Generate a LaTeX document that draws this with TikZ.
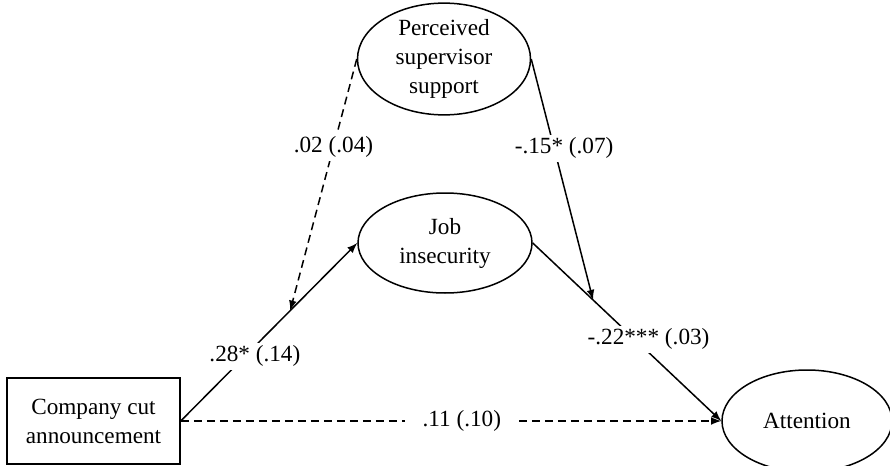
\documentclass[tikz,border=0pt]{standalone}
\usepackage{fontspec}
\setmainfont{Liberation Serif}
\usetikzlibrary{shapes.geometric}

\tikzset{
	latent/.style={draw,ellipse,line width=0.75pt,inner sep=0pt,align=center},
	observed/.style={draw,rectangle,line width=0.75pt,inner sep=0pt,align=center},
	lbl/.style={fill=white,inner sep=1.5pt},
	path/.style={line width=0.75pt,->},
	dashline/.style={line width=0.75pt,->,dash pattern=on 4pt off 2.5pt}
}

\begin{document}
\begin{tikzpicture}[>=latex,x=0.5pt,y=-0.5pt,font=\fontsize{11.6}{14.5}\selectfont]

\useasboundingbox (0,0) rectangle (890,466);

% variables
\node[latent,minimum width=86.5pt,minimum height=49pt] (support) at (444,59)
	{Perceived\\supervisor\\support};
\node[latent,minimum width=87pt,minimum height=50pt] (insec) at (445,243)
	{Job\\insecurity};
\node[observed,minimum width=86.5pt,minimum height=43pt] (cut) at (93.5,421)
	{Company cut\\announcement};
\node[latent,minimum width=85pt,minimum height=51pt] (attn) at (807,421)
	{Attention};

% points where the moderation meets a path
\path (cut.east) -- (insec.west) coordinate[pos=0.62] (modA);
\path (insec.east) -- (attn.west) coordinate[pos=0.32] (modB);

% paths
\draw[path] (cut.east) -- (insec.west)
	node[lbl,pos=0.42,yshift=-5pt] {.28* (.14)};
\draw[path] (insec.east) -- (attn.west)
	node[lbl,pos=0.54,xshift=7pt] {-.22*** (.03)};
\draw[dashline] (cut.east) -- (attn.west)
	node[lbl,pos=0.52,inner xsep=9pt] {.11 (.10)};
\draw[dashline] (support.west) -- (modA)
	node[lbl,pos=0.35] {.02 (.04)};
\draw[path] (support.east) -- (modB)
	node[lbl,pos=0.37,xshift=5pt] {-.15* (.07)};

\end{tikzpicture}
\end{document}
